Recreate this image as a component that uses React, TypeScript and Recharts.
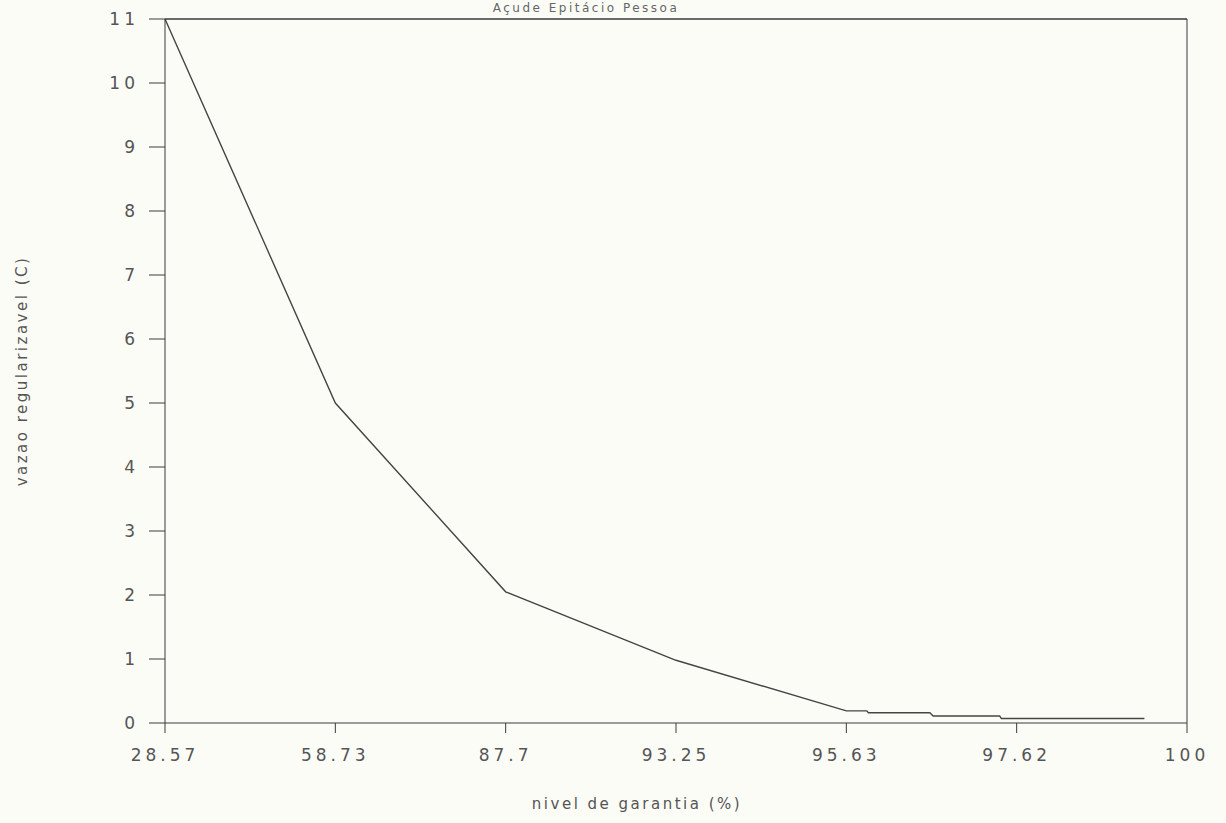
import { LineChart, Line, XAxis, YAxis, ReferenceLine } from 'recharts'

// position of each point along the (evenly spaced) guarantee axis, in tick units
const positions = [0, 1, 2, 3, 4, 4.12, 4.13, 4.49, 4.51, 4.9, 4.91, 5.75]
// regularizable flow
const flows = [11, 5.0, 2.05, 0.98, 0.19, 0.19, 0.16, 0.16, 0.11, 0.11, 0.07, 0.07]
const guarantees = ['28.57', '58.73', '87.7', '93.25', '95.63', '97.62', '100']
const xTicks = [0, 1, 2, 3, 4, 5, 6]
const yTicks = [0, 1, 2, 3, 4, 5, 6, 7, 8, 9, 10, 11]

const data = positions.map((p, i) => ({ pos: p, c: flows[i] }))

const ink = '#3a3a3a'
const tickStyle = { fill: '#555', fontSize: 17, fontFamily: 'DejaVu Sans', letterSpacing: 4 }
const labelStyle = { fill: '#555', fontSize: 15, fontFamily: 'DejaVu Sans', letterSpacing: 2.5 }

export default function App() {
  return (
    <div style={{ position: 'absolute', top: 0, left: 0, width: 1226, height: 823, background: '#fcfcf7', overflow: 'hidden' }}>
      <div
        style={{
          position: 'absolute', top: 1, left: 586, transform: 'translateX(-50%)', lineHeight: '14px',
          fontFamily: 'DejaVu Sans', fontSize: 12, letterSpacing: 2.5, color: '#666', whiteSpace: 'nowrap',
        }}
      >
        Açude Epitácio Pessoa
      </div>
      <LineChart width={1226} height={823} data={data} margin={{ top: 19, right: 39, left: 5, bottom: 40 }}>
        <XAxis
          dataKey="pos"
          type="number"
          domain={[0, 6]}
          ticks={xTicks}
          tickFormatter={(v: number) => guarantees[v]}
          height={60}
          tickSize={10}
          tickMargin={16}
          tick={tickStyle}
          stroke={ink}
          label={{ value: 'nivel de garantia (%)', position: 'bottom', offset: 15, dx: -39, style: labelStyle }}
        />
        <YAxis
          type="number"
          domain={[0, 11]}
          ticks={yTicks}
          width={160}
          tickSize={16}
          tickMargin={10}
          tick={tickStyle}
          stroke={ink}
          label={{
            value: 'vazao regularizavel (C)', angle: -90, position: 'insideLeft', offset: 17,
            style: { ...labelStyle, textAnchor: 'middle' },
          }}
        />
        <ReferenceLine y={11} stroke={ink} strokeWidth={1.5} />
        <ReferenceLine x={6} stroke={ink} strokeWidth={1} />
        <Line
          type="linear"
          dataKey="c"
          stroke="#444"
          strokeWidth={1.4}
          dot={false}
          isAnimationActive={false}
        />
      </LineChart>
    </div>
  )
}
